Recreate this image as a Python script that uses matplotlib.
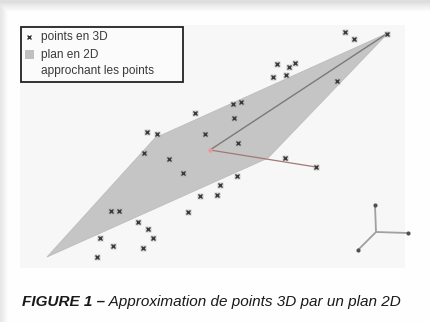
import numpy as np
import matplotlib
matplotlib.use("Agg")
import matplotlib.pyplot as plt
from matplotlib.patches import Polygon, Rectangle

# Scattered 3D points, projected onto the drawing plane (x right, y down)
pts_x = [345, 354, 387, 277, 289, 295, 273, 286, 337, 233, 241, 234, 238, 205,
         285, 195, 147, 157, 144, 169, 183, 200, 217, 220, 237, 188, 111, 119,
         138, 148, 153, 100, 113, 143, 97, 316]
pts_y = [32, 39, 34, 64, 67, 63, 77, 75, 81, 104, 102, 118, 143, 134,
         158, 113, 132, 134, 153, 159, 173, 196, 195, 185, 176, 212, 211, 211,
         222, 229, 238, 238, 246, 248, 257, 167]

# Fitted plane outline
plane_x = [47, 155, 388, 268]
plane_y = [257, 138, 33, 158]

# Plane centre and its two direction vectors
center = (210, 150)
dir1_end = (388, 33)
dir2_end = (316, 167)

# Reference axes triad
triad_origin = (376, 232)
triad_ends_x = [375, 408, 358]
triad_ends_y = [205, 233, 250]

legend_labels = ["points en 3D", "plan en 2D", "approchant les points"]
caption_bold = "FIGURE 1 \u2013"
caption_rest = " Approximation de points 3D par un plan 2D"

W, H = 430, 322
fig = plt.figure(figsize=(W / 100, H / 100), dpi=100)
ax = fig.add_axes([0, 0, 1, 1])
ax.set_xlim(0, W)
ax.set_ylim(H, 0)
ax.axis("off")

# page background with soft shadow along the top and left edges
yy = np.arange(H)[:, None].astype(float)
xx = np.arange(W)[None, :].astype(float)
top = np.clip((yy - 2) / 10.0, 0, 1) ** 0.8
bg = 0.87 + 0.13 * top
left = np.clip((xx - 1) / 7.0, 0, 1)
bg = np.minimum(bg, 0.91 + 0.09 * left)
bg = np.minimum(bg, 0.995) * np.ones((H, W))
ax.imshow(bg, cmap="gray", vmin=0, vmax=1, extent=(0, W, H, 0),
          interpolation="bilinear", zorder=0)

# slightly tinted area of the figure
ax.add_patch(Rectangle((20, 25), 385, 243, facecolor="#f7f7f7",
                       edgecolor="none", zorder=1))

# plane
ax.add_patch(Polygon(list(zip(plane_x, plane_y)), closed=True,
                     facecolor="#c5c5c5", edgecolor="#bdbdbd", lw=0.6, zorder=2))

# direction vectors from the centre
ax.plot([center[0], dir1_end[0]], [center[1], dir1_end[1]],
        color="#7a7a7a", lw=1.0, zorder=3)
ax.plot([center[0], dir2_end[0]], [center[1], dir2_end[1]],
        color="#a07a74", lw=0.9, zorder=3)
ax.plot([center[0]], [center[1]], "o", ms=3.2, color="#e89a9a",
        mec="none", zorder=4)

# points
ax.plot(pts_x, pts_y, linestyle="none", marker="s", ms=4.4,
        color="#b0b0b0", mec="none", alpha=0.6, zorder=4)
ax.plot(pts_x, pts_y, linestyle="none", marker="x", ms=3.2,
        color="#3a3a3a", mew=1.0, zorder=5)

# axes triad
for ex, ey in zip(triad_ends_x, triad_ends_y):
    ax.plot([triad_origin[0], ex], [triad_origin[1], ey],
            color="#a0a0a0", lw=1.3, zorder=3, solid_capstyle="round")
ax.plot(triad_ends_x, triad_ends_y, linestyle="none", marker="o", ms=3,
        color="#505050", mec="none", zorder=4)

# legend box
ax.add_patch(Rectangle((21, 26.5), 162, 55, facecolor="#fbfbfb",
                       edgecolor="#222222", lw=1.3, zorder=6))
ax.plot([29], [37], marker="x", ms=3, mew=1.0, color="#333333", zorder=7)
ax.add_patch(Rectangle((24.5, 50), 9, 9, facecolor="#c0c0c0",
                       edgecolor="none", zorder=7))
for label, ly in zip(legend_labels, [36.5, 54.5, 71]):
    ax.text(41, ly, label, fontsize=8.6, color="#3a3a3a", va="center",
            ha="left", family=["Liberation Sans", "DejaVu Sans"], zorder=7)

# caption
cap_font = ["Liberation Sans Narrow", "Liberation Sans", "DejaVu Sans"]
t1 = ax.text(22, 306, caption_bold, fontsize=11, fontweight="bold",
             fontstyle="italic", color="#1a1a1a", family=cap_font,
             va="baseline", ha="left", zorder=7)
ax.annotate(caption_rest, xy=(1, 0), xycoords=t1, va="bottom", ha="left",
            fontsize=11, fontstyle="italic", color="#1a1a1a",
            family=cap_font, zorder=7)

fig.savefig("out.png", dpi=100)
